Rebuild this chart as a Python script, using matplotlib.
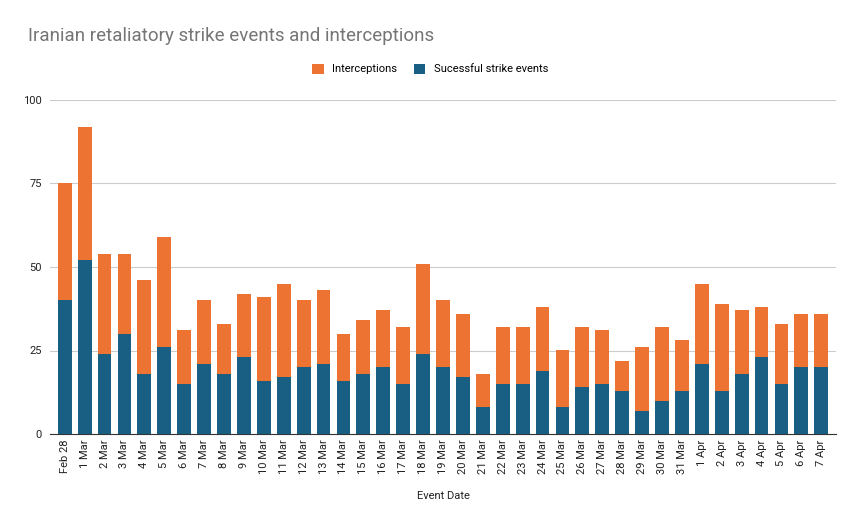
import matplotlib
matplotlib.use("Agg")
import matplotlib.pyplot as plt
import numpy as np

dates = ["Feb 28"] + [f"{d} Mar" for d in range(1, 32)] + [f"{d} Apr" for d in range(1, 8)]
totals = [75, 92, 54, 54, 46, 59, 31, 40, 33, 42, 41, 45, 40, 43, 30, 34, 37, 32, 51, 40, 36,
          18, 32, 32, 38, 25, 32, 31, 22, 26, 32, 28, 45, 39, 37, 38, 33, 36, 36]
successful = [40, 52, 24, 30, 18, 26, 15, 21, 18, 23, 16, 17, 20, 21, 16, 18, 20, 15, 24, 20, 17,
              8, 15, 15, 19, 8, 14, 15, 13, 7, 10, 13, 21, 13, 18, 23, 15, 20, 20]
interceptions = [t - s for t, s in zip(totals, successful)]

plt.rcParams['font.family'] = ['Roboto', 'DejaVu Sans']
fig = plt.figure(figsize=(8.61, 5.32), dpi=100)
ax = fig.add_axes([50/861, 1-434/532, 786/861, 334/532])
x = np.arange(len(dates))
blue = "#195f84"; orange = "#ec7332"
ax.bar(x, successful, width=0.69, color=blue, label="Sucessful strike events", zorder=3)
ax.bar(x, interceptions, width=0.69, bottom=successful, color=orange, label="Interceptions", zorder=3)
ax.set_xlim(-0.74, len(dates) - 0.26)
ax.set_ylim(0, 100)
ax.set_yticks([0, 25, 50, 75, 100])
ax.grid(axis='y', color='#cccccc', linewidth=0.8, zorder=0)
ax.set_xticks(x)
ax.set_xticklabels(dates, rotation=90, fontsize=8, color='#222222')
ax.tick_params(axis='y', labelsize=8, colors='#222222', length=0, pad=6)
ax.tick_params(axis='x', length=0, pad=4)
for s in ['top', 'right', 'left']:
    ax.spines[s].set_visible(False)
ax.spines['bottom'].set_color('#333333')
ax.set_xlabel("Event Date", fontsize=8, color='#222222', labelpad=12)
h, l = ax.get_legend_handles_labels()
fig.legend(h[::-1], l[::-1], loc='center', bbox_to_anchor=(0.5, 1-69/532), ncol=2, frameon=False,
           fontsize=8, handlelength=1, handleheight=1, columnspacing=1.5)
fig.text(28/861, 1-36/532, "Iranian retaliatory strike events and interceptions", fontsize=13.5,
         color='#757575', va='center', ha='left')
fig.savefig("out.png", dpi=100)
